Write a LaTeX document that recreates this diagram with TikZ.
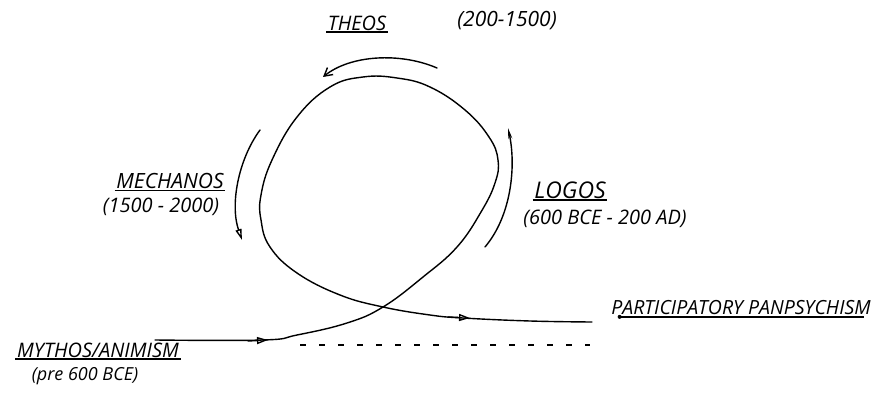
\documentclass[tikz,border=0pt]{standalone}
\usepackage{fontspec}
\setmainfont{Open Sans}
\usetikzlibrary{arrows.meta}

\tikzset{
  hand/.style={font=\itshape, inner sep=1.5pt},
  uline/.style={line width=1.4pt},
  stroke/.style={line width=1.4pt, line cap=round}
}

\begin{document}
\begin{tikzpicture}[x=1pt,y=-1pt]

      % Frame
      \useasboundingbox (0,0) rectangle (880,398);

      % Labels
      \node[hand, font=\itshape\fontsize{20}{20}\selectfont] (theos) at (357,23) {THEOS};
      \node[hand, font=\itshape\fontsize{21}{21}\selectfont] (theosdate) at (507,21) {(200-1500)};
      \draw[uline] (theos.south west) -- (theos.south east);

      \node[hand, font=\itshape\fontsize{21}{21}\selectfont] (mechanos) at (170,181) {MECHANOS};
      \node[hand, font=\itshape\fontsize{20}{20}\selectfont] (mechanosdate) at (161,207) {(1500 - 2000)};
      \draw[uline] (mechanos.south west) -- (mechanos.south east);

      \node[hand, font=\itshape\fontsize{23}{23}\selectfont] (logos) at (570,190) {LOGOS};
      \node[hand, font=\itshape\fontsize{20}{20}\selectfont] (logosdate) at (605,219) {(600 BCE - 200 AD)};
      \draw[uline] (logos.south west) -- (logos.south east);

      \node[hand, font=\itshape\fontsize{20}{20}\selectfont] (mythos) at (98,350) {MYTHOS/ANIMISM};
      \node[hand, font=\itshape\fontsize{18}{18}\selectfont] (mythosdate) at (85,376) {(pre 600 BCE)};
      \draw[uline] (mythos.south west) -- (mythos.south east);

      \node[hand, font=\itshape\fontsize{19.5}{19.5}\selectfont] (panpsy) at (741,308) {PARTICIPATORY PANPSYCHISM};
      \draw[uline] ([xshift=10pt]panpsy.south west) -- ([xshift=-8pt]panpsy.south east);
      \fill ([xshift=10pt]panpsy.south west) circle (2pt);

      % The loop
      \coordinate (start) at (155,340);
      \coordinate (cross) at (383,307);
      \coordinate (finish) at (592,322);
      \draw[stroke] plot[smooth, tension=0.7] coordinates {
        (start) (263,340) (297,335) (347,323) (cross) (423,277) (457,247)
        (481,212) (495,183) (498,160) (489,137) (465,110) (430,87) (397,78)
        (363,77) (330,87) (297,117) (272,160) (261,195) (261,220) (270,247)
        (297,273) (340,295) (cross) (430,315) (463,318) (530,321) (finish)};

      % Direction marks on the loop
      \draw[stroke, -{Triangle[open, length=11pt, width=7pt]}] (248,341) -- (268,340);
      \draw[stroke, -{Triangle[open, length=11pt, width=7pt]}] (448,317) -- (470,318);

      % Arrows round the loop
      \coordinate (topA) at (437,68);
      \coordinate (topB) at (323,77);
      \draw[stroke, -{Straight Barb[length=8pt, width=9pt]}] (topA) .. controls (400,52) and (350,55) .. (topB);

      \coordinate (leftA) at (260,130);
      \coordinate (leftB) at (242,240);
      \draw[stroke, -{Triangle[open, length=11pt, width=6pt]}] (leftA) .. controls (238,160) and (230,205) .. (leftB);

      \coordinate (rightA) at (485,247);
      \coordinate (rightB) at (508,128);
      \draw[stroke, -{Stealth[length=11pt, width=4pt]}] (rightA) .. controls (512,215) and (516,165) .. (rightB);

      % Baseline
      \coordinate (baseA) at (300,345);
      \coordinate (baseB) at (590,345);
      \draw[line width=1.4pt, dash pattern=on 6pt off 13pt] (baseA) -- (baseB);

\end{tikzpicture}
\end{document}
